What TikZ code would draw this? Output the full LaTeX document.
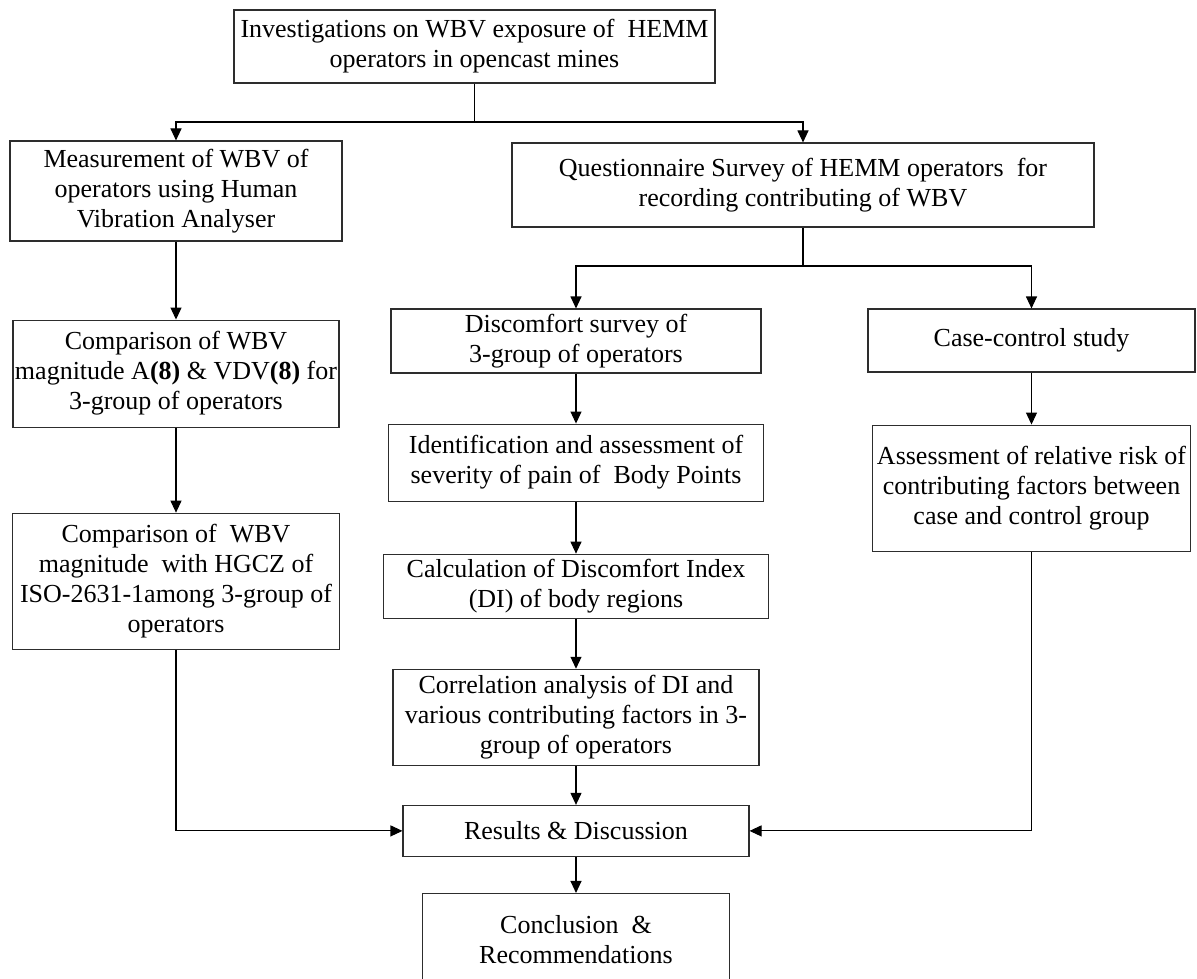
\documentclass[tikz,border=0pt]{standalone}
\usepackage{fontspec}
\setmainfont{Liberation Serif}
\usepackage{tikz}
\usetikzlibrary{positioning,arrows.meta}
\definecolor{edge}{RGB}{45,45,45}
\tikzset{
  blk/.style ={draw=edge,line width=1.1pt,fill=white,align=center,font=\fontsize{26}{30}\selectfont,inner sep=2pt},
  ar/.style  ={-{Triangle[length=12pt,width=11pt]},draw=black,line width=1.1pt},
}

\begin{document}
\begin{tikzpicture}[x=1pt,y=-1pt,node distance=50pt]
\useasboundingbox (0,0) rectangle (1197,979);
\node[blk,minimum width=481pt,minimum height=73pt] (top) at (474.5,46.5) {Investigations on WBV exposure of\ \ HEMM\\ operators in opencast mines};
\node[blk,minimum width=332pt,minimum height=100pt] (l1) at (176,191) {Measurement of WBV of\\ operators using Human\\ Vibration Analyser};
\node[blk,minimum width=582pt,minimum height=84pt] (r1) at (803,185) {Questionnaire Survey of HEMM operators\ \ for\\ recording contributing of WBV};
% left column
\node[blk,below=78pt of l1,minimum width=326pt,minimum height=107pt] (l2) {Comparison of WBV\\ magnitude A\textbf{(8)} \& VDV\textbf{(8)} for\\ 3-group of operators};
\node[blk,below=85pt of l2,minimum width=327pt,minimum height=136pt] (l3) {Comparison of\ \ WBV\\ magnitude\ \ with HGCZ of\\ ISO-2631-1among 3-group of\\ operators};
% middle column
\node[blk,minimum width=370pt,minimum height=64pt] (m1) at (576,341) {Discomfort survey of\\ 3-group of operators};
\node[blk,below=of m1,minimum width=375pt,minimum height=77pt] (m2) {Identification and assessment of\\ severity of pain of\ \ Body Points};
\node[blk,below=52pt of m2,minimum width=385pt,minimum height=64pt] (m3) {Calculation of Discomfort Index\\ (DI) of body regions};
\node[blk,below=of m3,minimum width=366pt,minimum height=96pt] (m4) {Correlation analysis of DI and\\ various contributing factors in 3-\\ group of operators};
\node[blk,below=39pt of m4,minimum width=346pt,minimum height=51pt] (res) {Results \& Discussion};
% runs past the lower edge of the page
\node[blk,below=36pt of res,minimum width=307pt,minimum height=112pt] (conc) {Conclusion\ \ \&\\ Recommendations\rule[-20pt]{0pt}{0pt}};
% right column
\node[blk,minimum width=327pt,minimum height=63pt] (cc) at (1031.5,340.5) {Case-control study};
\node[blk,below=52pt of cc,minimum width=318pt,minimum height=126pt] (rr) {Assessment of relative risk of\\ contributing factors between\\ case and control group};
% splits
\coordinate (j1) at (474.5,122);
\coordinate (j2) at (803,266);
\draw[ar] (top.south) -- (j1) -| (l1.north);
\draw[ar] (j1) -| (r1.north);
\draw[ar] (r1.south) -- (j2) -| (m1.north);
\draw[ar] (j2) -| (cc.north);
\draw[ar] (l1)--(l2); \draw[ar] (l2)--(l3);
\draw[ar] (m1)--(m2); \draw[ar] (m2)--(m3); \draw[ar] (m3)--(m4);
\draw[ar] (m4)--(res); \draw[ar] (res)--(conc);
\draw[ar] (cc)--(rr);
\draw[ar] (l3.south) |- (res.west);
\draw[ar] (rr.south) |- (res.east);
\end{tikzpicture}
\end{document}
